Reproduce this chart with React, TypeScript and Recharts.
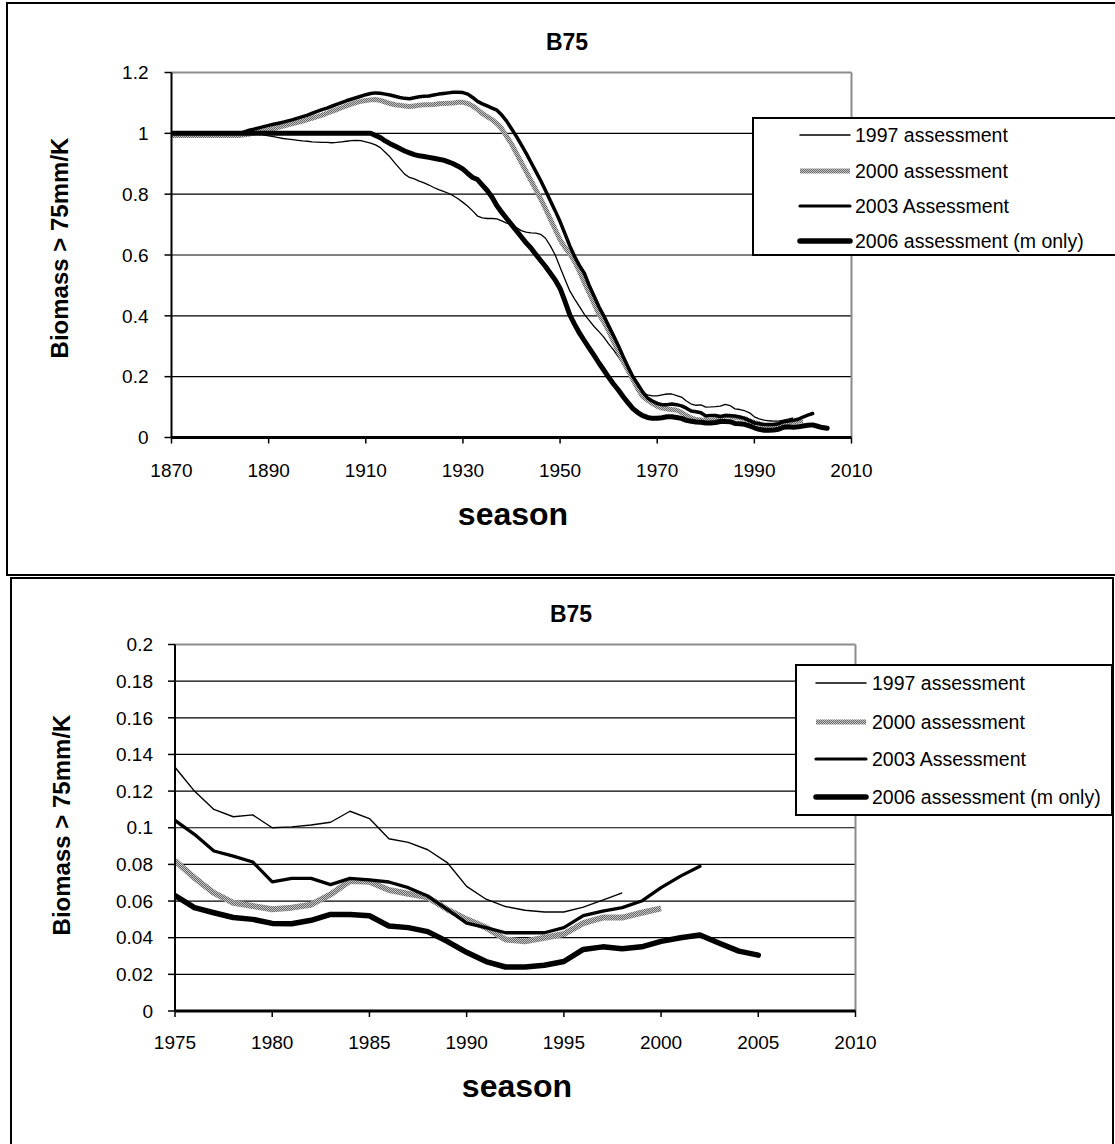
import React from 'react';
import { LineChart, Line, XAxis, YAxis, CartesianGrid, ReferenceLine, Legend } from 'recharts';

const FONT = '"Liberation Sans", Arial, Helvetica, sans-serif';

const startYear = 1870;

// 1997 assessment (1870-1998)
const s1997 = [
  1, 1, 1, 1, 1, 1, 1, 1, 1, 1,
  1, 1, 1, 1, 1, 1, 1, 1, 0.998, 0.995,
  0.992, 0.989, 0.986, 0.983, 0.981, 0.979, 0.977, 0.975, 0.974, 0.972,
  0.971, 0.97, 0.97, 0.969, 0.97, 0.972, 0.974, 0.976, 0.977, 0.976,
  0.972, 0.968, 0.962, 0.953, 0.938, 0.922, 0.902, 0.884, 0.866, 0.855,
  0.85, 0.843, 0.837, 0.83, 0.822, 0.815, 0.809, 0.803, 0.795, 0.785,
  0.773, 0.76, 0.745, 0.728, 0.722, 0.72, 0.72, 0.719, 0.712, 0.705,
  0.7, 0.69, 0.68, 0.675, 0.673, 0.672, 0.668, 0.655, 0.63, 0.6,
  0.56, 0.52, 0.482, 0.455, 0.43, 0.405, 0.385, 0.365, 0.348, 0.33,
  0.308, 0.288, 0.265, 0.24, 0.215, 0.185, 0.16, 0.146, 0.14, 0.137,
  0.137, 0.14, 0.143, 0.143, 0.138, 0.133, 0.12, 0.11, 0.106, 0.107,
  0.1, 0.1005, 0.1015, 0.103, 0.109, 0.105, 0.094, 0.092, 0.088, 0.081,
  0.068, 0.061, 0.057, 0.055, 0.054, 0.054, 0.0567, 0.0605, 0.0645,
];

// 2000 assessment (1870-2000)
const s2000 = [
  0.993, 0.993, 0.993, 0.993, 0.993, 0.993, 0.993, 0.993, 0.993, 0.993,
  0.993, 0.993, 0.993, 0.993, 0.993, 0.995, 0.998, 1.001, 1.005, 1.008,
  1.012, 1.016, 1.02, 1.024, 1.028, 1.032, 1.036, 1.04, 1.045, 1.05,
  1.055, 1.06, 1.066, 1.072, 1.078, 1.084, 1.09, 1.096, 1.101, 1.105,
  1.108, 1.11, 1.111, 1.108, 1.103, 1.098, 1.094, 1.092, 1.09, 1.088,
  1.09, 1.092, 1.094, 1.094, 1.095, 1.097, 1.098, 1.099, 1.1, 1.102,
  1.102, 1.098, 1.09, 1.078, 1.065, 1.055, 1.045, 1.032, 1.015, 0.99,
  0.965, 0.935, 0.905, 0.875, 0.845, 0.815, 0.785, 0.752, 0.718, 0.684,
  0.65, 0.625, 0.605, 0.578, 0.546, 0.51, 0.475, 0.44, 0.405, 0.38,
  0.35, 0.315, 0.282, 0.25, 0.22, 0.19, 0.16, 0.135, 0.123, 0.112,
  0.102, 0.097, 0.094, 0.092, 0.09, 0.082, 0.0727, 0.0645, 0.059, 0.0573,
  0.0555, 0.0564, 0.058, 0.0636, 0.071, 0.0705, 0.066, 0.064, 0.062, 0.0555,
  0.05, 0.0455, 0.039, 0.038, 0.04, 0.042, 0.048, 0.051, 0.051, 0.0536,
  0.056,
];

// 2003 Assessment (1870-2002)
const s2003 = [
  1, 1, 1, 1, 1, 1, 1, 1, 1, 1,
  1, 1, 1, 1, 1, 1.005, 1.01, 1.014, 1.018, 1.022,
  1.026, 1.03, 1.033, 1.037, 1.041, 1.045, 1.05, 1.055, 1.06, 1.066,
  1.072, 1.078, 1.083, 1.089, 1.095, 1.101, 1.107, 1.112, 1.117, 1.122,
  1.127, 1.131, 1.133, 1.132, 1.129, 1.126, 1.122, 1.118, 1.115, 1.114,
  1.117, 1.12, 1.122, 1.123, 1.126, 1.129, 1.131, 1.133, 1.135, 1.135,
  1.134, 1.129, 1.118, 1.105, 1.097, 1.09, 1.083, 1.076, 1.06, 1.04,
  1.015, 0.99, 0.963, 0.935, 0.905, 0.875, 0.845, 0.812, 0.778, 0.745,
  0.71, 0.67, 0.63, 0.595, 0.565, 0.54, 0.5, 0.465, 0.43, 0.4,
  0.367, 0.335, 0.302, 0.266, 0.232, 0.2, 0.175, 0.15, 0.13, 0.12,
  0.112, 0.108, 0.108, 0.11, 0.108, 0.104, 0.0964, 0.0873, 0.0845, 0.0813,
  0.0705, 0.0724, 0.0724, 0.069, 0.0724, 0.0715, 0.0704, 0.0673, 0.0627, 0.0555,
  0.048, 0.0455, 0.0427, 0.0427, 0.0427, 0.0455, 0.052, 0.0545, 0.0564, 0.06,
  0.0673, 0.0736, 0.079,
];

// 2006 assessment (m only) (1870-2005)
const s2006 = [
  1, 1, 1, 1, 1, 1, 1, 1, 1, 1,
  1, 1, 1, 1, 1, 1, 1, 1, 1, 1,
  1, 1, 1, 1, 1, 1, 1, 1, 1, 1,
  1, 1, 1, 1, 1, 1, 1, 1, 1, 1,
  1, 1, 0.993, 0.986, 0.975, 0.966, 0.958, 0.95, 0.942, 0.936,
  0.93, 0.926, 0.924, 0.921, 0.918, 0.915, 0.912, 0.906, 0.9, 0.892,
  0.882, 0.868, 0.855, 0.848, 0.83, 0.812, 0.79, 0.762, 0.74, 0.72,
  0.7, 0.68, 0.66, 0.64, 0.623, 0.602, 0.582, 0.562, 0.54, 0.518,
  0.49, 0.448, 0.403, 0.372, 0.343, 0.318, 0.294, 0.27, 0.245, 0.222,
  0.198, 0.176, 0.156, 0.134, 0.114, 0.095, 0.082, 0.072, 0.066, 0.063,
  0.063, 0.065, 0.068, 0.068, 0.066, 0.063, 0.0564, 0.0536, 0.051, 0.05,
  0.0478, 0.0476, 0.0495, 0.0527, 0.0527, 0.052, 0.0464, 0.0455, 0.0433, 0.038,
  0.032, 0.027, 0.024, 0.024, 0.025, 0.027, 0.0336, 0.035, 0.034, 0.035,
  0.038, 0.04, 0.0415, 0.037, 0.0327, 0.0305,
];

const seriesNames = ['1997 assessment', '2000 assessment', '2003 Assessment', '2006 assessment (m only)'];
const chartTitle = 'B75';
const xTitle = 'season';
const yTitle = 'Biomass > 75mm/K';

const topXTicks = [1870, 1890, 1910, 1930, 1950, 1970, 1990, 2010];
const topYTicks = [0, 0.2, 0.4, 0.6, 0.8, 1, 1.2];
const botXTicks = [1975, 1980, 1985, 1990, 1995, 2000, 2005, 2010];
const botYTicks = [0, 0.02, 0.04, 0.06, 0.08, 0.1, 0.12, 0.14, 0.16, 0.18, 0.2];

const data = s2006.map((_, i) => ({
  year: startYear + i,
  a1997: s1997[i],
  a2000: s2000[i],
  a2003: s2003[i],
  a2006: s2006[i],
}));
const dataRecent = data.filter((d) => d.year >= 1975);

const HATCH_LIGHT = '#c6c6c6';
const HATCH_DARK = '#666666';

function Hatch({ id }: { id: string }) {
  return (
    <pattern id={id} width="2" height="2" patternUnits="userSpaceOnUse">
      <rect width="2" height="2" fill={HATCH_LIGHT} />
      <rect width="1" height="1" fill={HATCH_DARK} />
      <rect x="1" y="1" width="1" height="1" fill={HATCH_DARK} />
    </pattern>
  );
}

type LegendCfg = {
  rows: number[];
  symX: number;
  symW: number;
  textX: number;
  patternId: string;
};

function LegendBox({ cfg }: { cfg: LegendCfg }) {
  const styles = [
    { w: 1.5, c: '#000' },
    { w: 5, c: `url(#${cfg.patternId})` },
    { w: 3.2, c: '#000' },
    { w: 5.5, c: '#000' },
  ];
  return (
    <div
      style={{
        position: 'relative',
        width: '100%',
        height: '100%',
        border: '2px solid #000',
        boxSizing: 'border-box',
        background: '#fff',
        fontFamily: FONT,
        fontSize: 19.5,
        color: '#000',
      }}
    >
      {seriesNames.map((name, i) => (
        <React.Fragment key={name}>
          <svg
            width={cfg.symW}
            height={12}
            style={{ position: 'absolute', left: cfg.symX - 2, top: cfg.rows[i] - 2 - 6 }}
          >
            <defs>
              <Hatch id={cfg.patternId} />
            </defs>
            <line
              x1={3}
              x2={cfg.symW - 3}
              y1={6}
              y2={6}
              stroke={styles[i].c}
              strokeWidth={styles[i].w}
              strokeLinecap={i === 1 ? 'butt' : 'round'}
            />
          </svg>
          <div
            style={{
              position: 'absolute',
              left: cfg.textX - 2,
              top: cfg.rows[i] - 2 - 12,
              height: 24,
              lineHeight: '24px',
              whiteSpace: 'nowrap',
            }}
          >
            {name}
          </div>
        </React.Fragment>
      ))}
    </div>
  );
}

function renderLines(hatchId: string, widths: number[]) {
  return [
    <Line key="a1997" dataKey="a1997" name={seriesNames[0]} type="linear" stroke="#000" strokeWidth={widths[0]} dot={false} activeDot={false} isAnimationActive={false} strokeLinejoin="round" />,
    <Line key="a2000" dataKey="a2000" name={seriesNames[1]} type="linear" stroke={`url(#${hatchId})`} strokeWidth={widths[1]} dot={false} activeDot={false} isAnimationActive={false} strokeLinejoin="round" />,
    <Line key="a2003" dataKey="a2003" name={seriesNames[2]} type="linear" stroke="#000" strokeWidth={widths[2]} dot={false} activeDot={false} isAnimationActive={false} strokeLinejoin="round" strokeLinecap="round" />,
    <Line key="a2006" dataKey="a2006" name={seriesNames[3]} type="linear" stroke="#000" strokeWidth={widths[3]} dot={false} activeDot={false} isAnimationActive={false} strokeLinejoin="round" strokeLinecap="round" />,
  ];
}

const tickStyle = { fill: '#000', fontSize: 19, fontFamily: FONT };

export default function App() {
  return (
    <div
      style={{
        position: 'absolute',
        left: 0,
        top: 0,
        width: 1115,
        height: 1144,
        overflow: 'hidden',
        background: '#fff',
        fontFamily: FONT,
      }}
    >
      {/* Top chart */}
      <div style={{ position: 'absolute', left: 0, top: 0, width: 1115, height: 577 }}>
        <LineChart
          width={1115}
          height={577}
          data={data}
          margin={{ top: 72.5, right: 263.5, bottom: 99.5, left: 91.5 }}
        >
          <defs>
            <Hatch id="hatchTop" />
          </defs>
          <rect x={7} y={3} width={1140} height={572} fill="none" stroke="#000" strokeWidth={2} />
          <CartesianGrid vertical={false} stroke="#000" strokeWidth={1.2} horizontalValues={[0.2, 0.4, 0.6, 0.8, 1]} />
          <XAxis
            type="number"
            dataKey="year"
            domain={[1870, 2010]}
            ticks={topXTicks}
            interval={0}
            height={40}
            tickSize={6}
            tickMargin={20}
            tick={tickStyle}
            axisLine={{ stroke: '#000', strokeWidth: 3 }}
            tickLine={{ stroke: '#000', strokeWidth: 1.5 }}
            allowDataOverflow
          />
          <YAxis
            type="number"
            domain={[0, 1.2]}
            ticks={topYTicks}
            interval={0}
            width={80}
            tickSize={7}
            tickMargin={16}
            tick={tickStyle}
            axisLine={{ stroke: '#000', strokeWidth: 2 }}
            tickLine={{ stroke: '#000', strokeWidth: 1.5 }}
            allowDataOverflow
          />
          <ReferenceLine y={1.2} stroke="#8c8c8c" strokeWidth={2} />
          <ReferenceLine x={2010} stroke="#8c8c8c" strokeWidth={2} />
          {renderLines('hatchTop', [1.3, 5, 3.5, 5])}
          <Legend
            verticalAlign="middle"
            align="center"
            layout="vertical"
            wrapperStyle={{ left: 752, top: 117, width: 400, height: 139 }}
            content={() => (
              <LegendBox cfg={{ rows: [18, 54, 89, 124], symX: 45, symW: 56, textX: 103, patternId: 'hatchLegTop' }} />
            )}
          />
          <text x={567} y={50} textAnchor="middle" fontFamily={FONT} fontWeight="bold" fontSize={23} fill="#000">
            {chartTitle}
          </text>
          <text x={513} y={525} textAnchor="middle" fontFamily={FONT} fontWeight="bold" fontSize={32} fill="#000">
            {xTitle}
          </text>
          <text
            x={68}
            y={248}
            transform="rotate(-90 68 248)"
            textAnchor="middle"
            fontFamily={FONT}
            fontWeight="bold"
            fontSize={24}
            fill="#000"
          >
            {yTitle}
          </text>
        </LineChart>
      </div>

      {/* Bottom chart */}
      <div style={{ position: 'absolute', left: 0, top: 577, width: 1115, height: 567 }}>
        <LineChart
          width={1115}
          height={567}
          data={dataRecent}
          margin={{ top: 67.5, right: 259.5, bottom: 93, left: 95 }}
        >
          <defs>
            <Hatch id="hatchBot" />
          </defs>
          <rect x={11} y={1} width={1102} height={600} fill="none" stroke="#000" strokeWidth={2} />
          <CartesianGrid
            vertical={false}
            stroke="#000"
            strokeWidth={1.2}
            horizontalValues={[0.02, 0.04, 0.06, 0.08, 0.1, 0.12, 0.14, 0.16, 0.18]}
          />
          <XAxis
            type="number"
            dataKey="year"
            domain={[1975, 2010]}
            ticks={botXTicks}
            interval={0}
            height={40}
            tickSize={6}
            tickMargin={19}
            tick={tickStyle}
            axisLine={{ stroke: '#000', strokeWidth: 3 }}
            tickLine={{ stroke: '#000', strokeWidth: 1.5 }}
            allowDataOverflow
          />
          <YAxis
            type="number"
            domain={[0, 0.2]}
            ticks={botYTicks}
            interval={0}
            width={80}
            tickSize={7}
            tickMargin={15}
            tick={tickStyle}
            axisLine={{ stroke: '#000', strokeWidth: 2 }}
            tickLine={{ stroke: '#000', strokeWidth: 1.5 }}
            allowDataOverflow
          />
          <ReferenceLine y={0.2} stroke="#8c8c8c" strokeWidth={2} />
          <ReferenceLine x={2010} stroke="#8c8c8c" strokeWidth={2} />
          {renderLines('hatchBot', [1.4, 6, 3.3, 5.5])}
          <Legend
            verticalAlign="middle"
            align="center"
            layout="vertical"
            wrapperStyle={{ left: 795, top: 87, width: 318, height: 152 }}
            content={() => (
              <LegendBox cfg={{ rows: [19, 57.5, 95, 132.5], symX: 18, symW: 56, textX: 77, patternId: 'hatchLegBot' }} />
            )}
          />
          <text x={571} y={45} textAnchor="middle" fontFamily={FONT} fontWeight="bold" fontSize={23} fill="#000">
            {chartTitle}
          </text>
          <text x={517} y={520} textAnchor="middle" fontFamily={FONT} fontWeight="bold" fontSize={32} fill="#000">
            {xTitle}
          </text>
          <text
            x={70}
            y={248}
            transform="rotate(-90 70 248)"
            textAnchor="middle"
            fontFamily={FONT}
            fontWeight="bold"
            fontSize={24}
            fill="#000"
          >
            {yTitle}
          </text>
        </LineChart>
      </div>
    </div>
  );
}
